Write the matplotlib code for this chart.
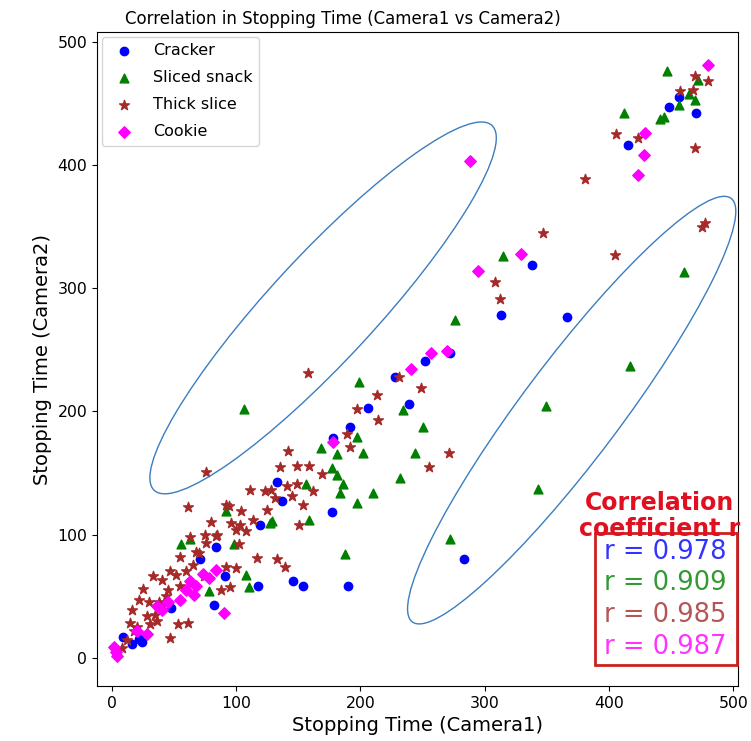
import matplotlib
matplotlib.use('Agg')
import matplotlib.pyplot as plt
from matplotlib.patches import Ellipse, Rectangle

# Cracker
cracker_x = [456, 448, 470, 415, 338, 313, 366, 272, 252, 228, 239, 283, 206, 192, 178, 133, 137,
             177, 119, 146, 154, 190, 118, 82, 48, 91, 71, 84, 22, 9, 16, 24]
cracker_y = [455, 447, 442, 416, 319, 278, 277, 247, 241, 228, 206, 80, 203, 187, 178, 143, 127,
             118, 108, 62, 58, 58, 58, 43, 40, 66, 80, 90, 15, 17, 11, 13]

# Sliced snack
snack_x = [447, 412, 469, 464, 472, 456, 441, 444, 315, 276, 460, 417, 349, 343, 272, 250, 234, 244,
           232, 106, 199, 197, 202, 168, 181, 177, 181, 186, 184, 210, 197, 156, 159, 129, 92, 63,
           56, 98, 108, 127, 78, 188, 110]
snack_y = [476, 442, 453, 458, 469, 449, 437, 439, 326, 274, 313, 237, 204, 137, 96, 187, 201, 166,
           146, 202, 224, 179, 166, 170, 165, 154, 148, 141, 134, 134, 126, 141, 112, 111, 119, 96,
           92, 92, 67, 109, 54, 84, 57]

# Thick slice
thick_x = [406, 423, 469, 381, 457, 468, 469, 480, 477, 475, 347, 308, 312, 405, 271, 255, 249, 231,
           158, 213, 197, 214, 76, 142, 149, 135, 159, 169, 192, 189, 111, 123, 128, 131, 141, 149,
           162, 154, 145, 125, 92, 104, 96, 103, 114, 151, 61, 94, 55, 47, 40, 25, 22, 44, 40, 28,
           31, 36, 53, 61, 47, 15, 16, 100, 108, 102, 92, 100, 133, 139, 117, 88, 95, 76, 84, 68,
           52, 33, 74, 75, 8, 12, 18, 20, 35, 38, 45, 30, 55, 60, 65, 70, 80, 85, 63]
thick_y = [425, 422, 414, 389, 460, 461, 472, 468, 353, 350, 345, 305, 291, 327, 166, 155, 219, 228,
           231, 213, 202, 193, 151, 168, 156, 155, 156, 149, 171, 182, 136, 135, 136, 130, 139, 141,
           135, 124, 131, 120, 124, 119, 109, 108, 112, 108, 122, 123, 82, 70, 63, 56, 47, 50, 42,
           34, 27, 30, 27, 28, 16, 28, 39, 104, 103, 92, 74, 73, 80, 74, 81, 55, 57, 93, 99, 86,
           67, 66, 66, 100, 8, 14, 22, 25, 35, 45, 55, 45, 58, 70, 75, 85, 110, 100, 98]

# Cookie
cookie_x = [480, 429, 428, 423, 288, 295, 329, 257, 270, 241, 178, 84, 78, 68, 63, 55, 36, 40, 28,
            2, 4, 90, 60, 66, 20, 45, 73, 3]
cookie_y = [481, 426, 408, 392, 403, 314, 328, 247, 249, 234, 175, 71, 65, 58, 62, 47, 42, 39, 19,
            9, 1, 36, 55, 51, 22, 45, 68, 5]

labels = ['Cracker', 'Sliced snack', 'Thick slice', 'Cookie']
r_values = [0.978, 0.909, 0.985, 0.987]
colors = ['blue', 'green', 'brown', 'magenta']
markers = ['o', '^', '*', 'D']
sizes = [36, 40, 55, 34]

fig = plt.figure(figsize=(7.51, 7.41), dpi=100)
ax = fig.add_axes([0.129, 0.0742, 0.854, 0.8826])

series = [(cracker_x, cracker_y), (snack_x, snack_y), (thick_x, thick_y), (cookie_x, cookie_y)]
for (xs, ys), lab, c, m, s in zip(series, labels, colors, markers, sizes):
    ax.scatter(xs, ys, c=c, marker=m, s=s, label=lab)

# highlighted groups
ax.add_patch(Ellipse((170, 284), width=402, height=85, angle=47.5,
                     fill=False, edgecolor='#3b7dbf', lw=1))
ax.add_patch(Ellipse((370, 201), width=429, height=79, angle=53.3,
                     fill=False, edgecolor='#3b7dbf', lw=1))

ax.set_xlim(-12, 504)
ax.set_ylim(-23, 508)
ax.tick_params(labelsize=11.3)
ax.set_xlabel('Stopping Time (Camera1)', fontsize=14)
ax.set_ylabel('Stopping Time (Camera2)', fontsize=14)
ax.set_title('Correlation in Stopping Time (Camera1 vs Camera2)', fontsize=12, x=0.384)
ax.legend(loc='upper left', fontsize=11.5, scatterpoints=1, borderaxespad=0.3,
          labelspacing=0.75)

W, H = 751, 741
fig.text(660 / W, 1 - 516 / H, 'Correlation\ncoefficient r', color='#e01020', fontsize=17,
         fontweight='bold', ha='center', va='center', linespacing=1.15)
fig.patches.append(Rectangle((595 / W, 1 - 665 / H), 142 / W, 132 / H, transform=fig.transFigure,
                             fill=False, edgecolor='#cc2020', lw=2))
for i, (r, c) in enumerate(zip(r_values, colors)):
    fig.text(604 / W, 1 - (552 + 31.5 * i) / H, 'r = %.3f' % r, color=c, alpha=0.8,
             fontsize=18.5, ha='left', va='center')

plt.savefig('out.png', dpi=100)
